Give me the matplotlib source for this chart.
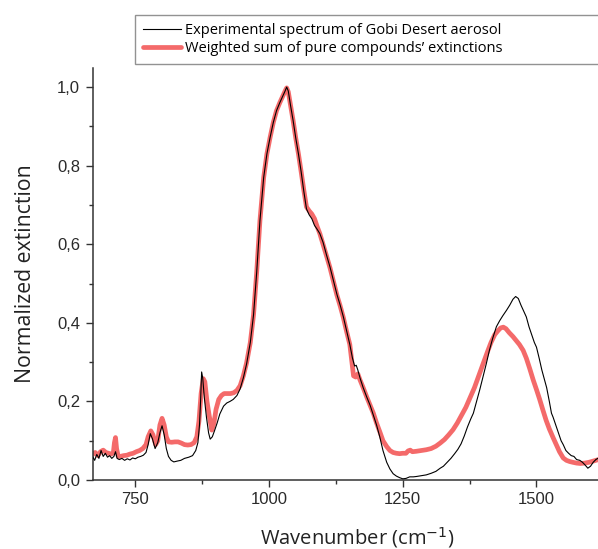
import matplotlib
matplotlib.use("Agg")
import matplotlib.pyplot as plt
from matplotlib.ticker import MultipleLocator, FuncFormatter

# ---- data ----
exp_wn = [670, 674, 678, 682, 686, 690, 694, 698, 702, 706, 710, 713, 716, 720, 725, 730, 735, 740, 745, 750,
          755, 760, 765, 770, 774, 778, 782, 787, 792, 796, 800, 804, 808, 812, 817, 822, 828, 835, 842, 850,
          857, 863, 867, 870, 872, 874, 876, 879, 883, 887, 890, 894, 898, 903, 908, 915, 921, 927, 933, 940,
          946, 952, 958, 965, 971, 977, 983, 990, 996, 1002, 1008, 1014, 1020, 1026, 1030, 1033, 1036, 1040,
          1045, 1050, 1055, 1060, 1065, 1070, 1075, 1080, 1085, 1090, 1095, 1101, 1108, 1114, 1120, 1127,
          1133, 1139, 1145, 1151, 1156, 1160, 1163, 1166, 1170, 1176, 1183, 1189, 1195, 1201, 1207, 1213,
          1220, 1226, 1232, 1238, 1244, 1250, 1256, 1263, 1270, 1276, 1285, 1294, 1303, 1312, 1320, 1326,
          1333, 1340, 1347, 1353, 1359, 1365, 1371, 1377, 1382, 1388, 1394, 1400, 1406, 1412, 1418, 1425,
          1431, 1437, 1444, 1450, 1456, 1461, 1466, 1471, 1476, 1481, 1486, 1491, 1496, 1500, 1505, 1510,
          1515, 1519, 1524, 1528, 1531, 1536, 1541, 1546, 1550, 1555, 1560, 1565, 1570, 1575, 1581, 1586,
          1591, 1596, 1601, 1606, 1611, 1616]
exp_val = [0.060, 0.050, 0.065, 0.055, 0.075, 0.060, 0.068, 0.058, 0.062, 0.055, 0.060, 0.072, 0.055, 0.052,
           0.055, 0.050, 0.054, 0.051, 0.056, 0.054, 0.058, 0.060, 0.063, 0.070, 0.090, 0.118, 0.105, 0.080,
           0.095, 0.120, 0.138, 0.115, 0.080, 0.060, 0.050, 0.046, 0.048, 0.050, 0.055, 0.058, 0.062, 0.075,
           0.095, 0.140, 0.200, 0.275, 0.260, 0.210, 0.160, 0.120, 0.104, 0.110, 0.125, 0.145, 0.168, 0.188,
           0.196, 0.200, 0.205, 0.215, 0.232, 0.260, 0.295, 0.350, 0.420, 0.530, 0.660, 0.770, 0.830, 0.872,
           0.910, 0.940, 0.960, 0.978, 0.990, 1.000, 0.990, 0.955, 0.915, 0.870, 0.830, 0.785, 0.735, 0.690,
           0.675, 0.665, 0.648, 0.638, 0.627, 0.605, 0.570, 0.542, 0.510, 0.472, 0.445, 0.415, 0.380, 0.345,
           0.310, 0.290, 0.292, 0.280, 0.260, 0.235, 0.210, 0.190, 0.165, 0.140, 0.110, 0.075, 0.045, 0.028,
           0.016, 0.010, 0.006, 0.003, 0.004, 0.008, 0.008, 0.009, 0.011, 0.013, 0.017, 0.022, 0.030, 0.035,
           0.045, 0.055, 0.067, 0.078, 0.092, 0.112, 0.135, 0.155, 0.170, 0.200, 0.230, 0.262, 0.295, 0.330,
           0.360, 0.390, 0.405, 0.418, 0.432, 0.445, 0.460, 0.467, 0.462, 0.445, 0.430, 0.415, 0.390, 0.370,
           0.350, 0.338, 0.310, 0.280, 0.255, 0.235, 0.200, 0.170, 0.160, 0.140, 0.120, 0.100, 0.090, 0.075,
           0.068, 0.062, 0.060, 0.052, 0.050, 0.045, 0.038, 0.030, 0.035, 0.045, 0.052, 0.056]

fit_wn = [670, 675, 680, 685, 690, 695, 700, 705, 709, 711, 713, 715, 718, 722, 728, 734, 740, 746, 752, 758,
          764, 770, 774, 779, 783, 788, 792, 796, 800, 804, 808, 812, 818, 824, 830, 836, 842, 848, 854, 860,
          865, 869, 873, 877, 880, 884, 888, 893, 897, 901, 906, 911, 916, 922, 928, 934, 940, 946, 952, 958,
          965, 971, 977, 983, 990, 996, 1002, 1008, 1014, 1020, 1026, 1030, 1033, 1036, 1040, 1045, 1050,
          1055, 1060, 1065, 1070, 1075, 1080, 1085, 1090, 1095, 1101, 1108, 1114, 1120, 1127, 1133, 1139,
          1145, 1151, 1155, 1158, 1162, 1166, 1170, 1176, 1183, 1189, 1195, 1201, 1207, 1213, 1220, 1226,
          1232, 1238, 1244, 1250, 1256, 1260, 1264, 1268, 1275, 1285, 1294, 1303, 1312, 1320, 1328, 1336,
          1344, 1352, 1360, 1368, 1376, 1384, 1392, 1400, 1408, 1415, 1422, 1428, 1433, 1438, 1443, 1449,
          1456, 1462, 1468, 1475, 1481, 1487, 1494, 1500, 1506, 1512, 1518, 1524, 1531, 1537, 1543, 1550,
          1556, 1562, 1568, 1575, 1582, 1590, 1598, 1606, 1616]
fit_val = [0.065, 0.070, 0.062, 0.072, 0.076, 0.070, 0.068, 0.066, 0.070, 0.095, 0.108, 0.080, 0.060, 0.060,
           0.062, 0.063, 0.066, 0.068, 0.072, 0.075, 0.080, 0.090, 0.110, 0.125, 0.115, 0.090, 0.100, 0.140,
           0.157, 0.140, 0.110, 0.097, 0.096, 0.097, 0.097, 0.094, 0.090, 0.089, 0.090, 0.095, 0.110, 0.150,
           0.220, 0.258, 0.250, 0.200, 0.165, 0.127, 0.145, 0.180, 0.205, 0.215, 0.220, 0.220, 0.220, 0.222,
           0.228, 0.240, 0.265, 0.298, 0.350, 0.420, 0.530, 0.660, 0.770, 0.830, 0.872, 0.910, 0.940, 0.960,
           0.978, 0.990, 0.998, 0.988, 0.955, 0.915, 0.870, 0.830, 0.785, 0.738, 0.695, 0.685, 0.677, 0.665,
           0.645, 0.627, 0.600, 0.568, 0.540, 0.508, 0.470, 0.443, 0.413, 0.378, 0.345, 0.300, 0.265, 0.262,
           0.270, 0.255, 0.235, 0.210, 0.190, 0.170, 0.145, 0.123, 0.100, 0.085, 0.075, 0.070, 0.068, 0.067,
           0.068, 0.068, 0.074, 0.076, 0.072, 0.073, 0.075, 0.077, 0.080, 0.086, 0.094, 0.103, 0.115, 0.128,
           0.145, 0.165, 0.185, 0.210, 0.235, 0.265, 0.295, 0.325, 0.350, 0.370, 0.380, 0.387, 0.389, 0.385,
           0.375, 0.365, 0.355, 0.345, 0.330, 0.310, 0.285, 0.254, 0.230, 0.205, 0.178, 0.152, 0.130, 0.108,
           0.090, 0.072, 0.056, 0.050, 0.047, 0.045, 0.043, 0.042, 0.043, 0.045, 0.048, 0.052]

label_exp = "Experimental spectrum of Gobi Desert aerosol"
label_fit = "Weighted sum of pure compounds\u2019 extinctions"
xticks = [750, 1000, 1250, 1500]
yticks = [0.0, 0.2, 0.4, 0.6, 0.8, 1.0]

# ---- figure ----
fig = plt.figure(figsize=(5.98, 5.49), dpi=100)
ax = fig.add_axes([0.1547, 0.1257, 0.8453, 0.750])

l_fit, = ax.plot(fit_wn, fit_val, color="#f46a6a", lw=3.4, solid_capstyle="round", zorder=2)
l_exp, = ax.plot(exp_wn, exp_val, color="black", lw=0.8, zorder=3)

ax.set_xlim(670, 1615)
ax.set_ylim(0, 1.048)
ax.set_xticks(xticks)
ax.set_yticks(yticks)
ax.xaxis.set_minor_locator(MultipleLocator(125))
ax.yaxis.set_minor_locator(MultipleLocator(0.1))
ax.yaxis.set_major_formatter(FuncFormatter(lambda v, p: f"{v:.1f}".replace(".", ",")))

for s in ["top", "right"]:
    ax.spines[s].set_visible(False)
for s in ["left", "bottom"]:
    ax.spines[s].set_linewidth(1.1)
    ax.spines[s].set_color("#333333")

ax.tick_params(which="major", direction="out", length=5, width=1.0, color="#333333",
               labelsize=12, labelcolor="#2a2a2a", pad=4)
ax.tick_params(which="minor", direction="out", length=3, width=1.0, color="#333333")
for lab in ax.get_xticklabels() + ax.get_yticklabels():
    lab.set_family("Liberation Sans")

ax.set_xlabel("Wavenumber (cm$^{-1}$)", family="Open Sans", fontsize=14.5, color="#222222")
ax.set_ylabel("Normalized extinction", family="Open Sans", fontsize=15.3, color="#222222")
ax.xaxis.set_label_coords(0.524, -0.110)
ax.yaxis.set_label_coords(-0.112, 0.5)

leg = fig.legend([l_exp, l_fit], [label_exp, label_fit],
                 loc="upper left", bbox_to_anchor=(135 / 598, 1 - 15 / 549, 500 / 598, 0),
                 mode="expand", prop={"family": "Open Sans", "size": 10.5},
                 handlelength=2.6, handletextpad=0.3, borderpad=0.55, labelspacing=0.22,
                 borderaxespad=0, fancybox=False, frameon=True)
leg.get_frame().set_edgecolor("#777777")
leg.get_frame().set_linewidth(1.0)

fig.savefig("out.png", dpi=100)
